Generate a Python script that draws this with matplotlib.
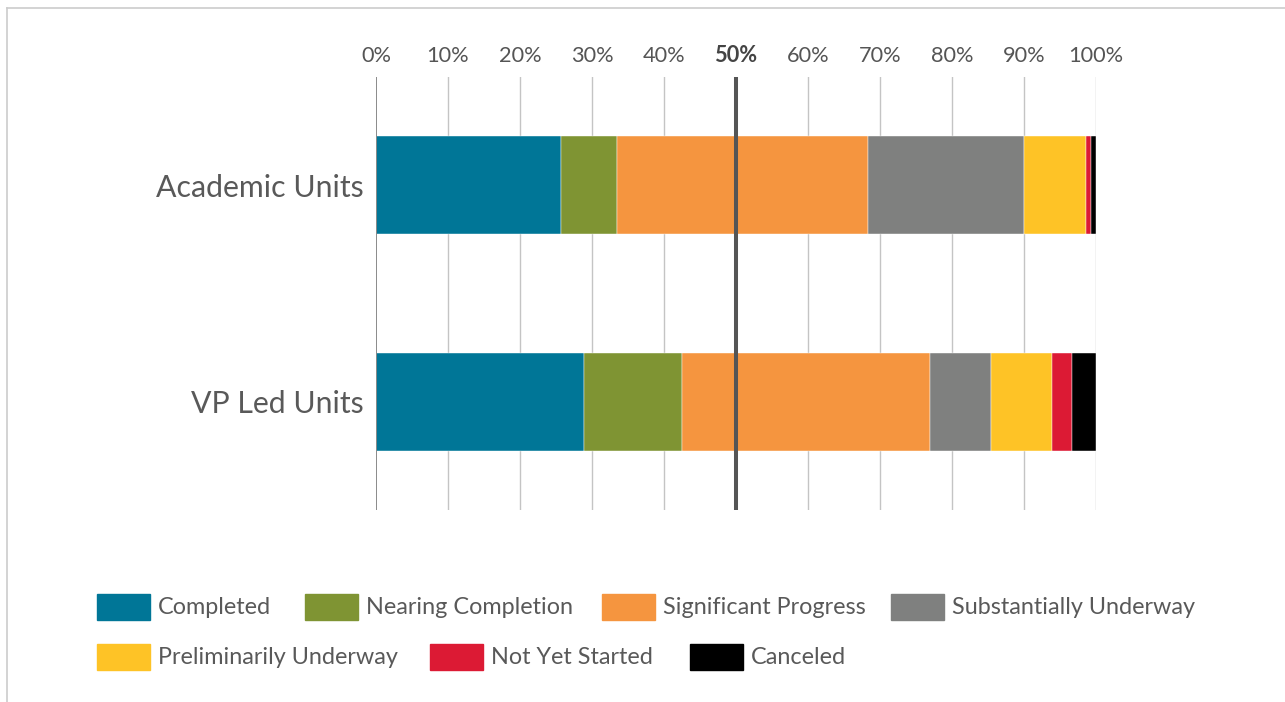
import numpy as np
import matplotlib.pyplot as plt
from matplotlib.patches import Rectangle
from matplotlib.lines import Line2D

plt.rcParams['font.family'] = ['Lato', 'DejaVu Sans']

units = ["Academic Units", "VP Led Units"]
statuses = ["Completed", "Nearing Completion", "Significant Progress",
            "Substantially Underway", "Preliminarily Underway",
            "Not Yet Started", "Canceled"]
colors = ["#007697", "#7F9433", "#F5953F", "#7F807F", "#FEC326",
          "#DC1A34", "#000000"]

# share of items per status (%)
academic = [25.7, 7.8, 34.8, 21.7, 8.6, 0.75, 0.65]
vp_led = [28.9, 13.6, 34.4, 8.5, 8.5, 2.8, 3.3]

ticks = list(range(0, 101, 10))
tick_labels = [f"{t}%" for t in ticks]

fig = plt.figure(figsize=(12.85, 7.02), dpi=100)
ax = fig.add_axes([376 / 1285, 1 - 510 / 702, 720 / 1285, 433 / 702])

data = np.array([academic, vp_led])
left = np.zeros(len(units))
for i, st in enumerate(statuses):
    ax.barh(range(len(units)), data[:, i], left=left, height=0.453,
            color=colors[i], edgecolor='white', linewidth=0.3, zorder=2)
    left += data[:, i]

for t in ticks:
    if t == 0:
        ax.axvline(t, color='#8a8a8a', lw=1.4, zorder=3)
    elif t == 50:
        ax.axvline(t, color='#555555', lw=2.9, zorder=4)
    else:
        ax.axvline(t, color='#c4c4c4', lw=1.0, zorder=1)

ax.set_xlim(0, 100)
ax.set_ylim(1.5, -0.5)
ax.xaxis.tick_top()
ax.set_xticks(ticks)
ax.set_xticklabels(tick_labels)
ax.tick_params(axis='x', length=0, pad=8, labelsize=15.7, labelcolor='#555555')
for lab in ax.get_xticklabels():
    if lab.get_text() == "50%":
        lab.set_fontweight('bold')
        lab.set_color('#444444')
ax.set_yticks(range(len(units)))
ax.set_yticklabels(units)
ax.tick_params(axis='y', length=0, pad=9, labelsize=21.8, labelcolor='#595959')
for s in ax.spines.values():
    s.set_visible(False)

# legend laid out as in the original (two flowing rows)
legend_pos = [(97, 607), (305, 607), (602, 607), (891, 607),
              (97, 657), (430, 657), (690, 657)]
W, H = 1285, 702
for (px, py), st, c in zip(legend_pos, statuses, colors):
    fig.patches.append(Rectangle((px / W, 1 - (py + 13) / H), 53 / W, 26 / H,
                                 transform=fig.transFigure, color=c))
    fig.text((px + 61) / W, 1 - py / H, st, fontsize=16.8, color='#595959',
             va='center', ha='left')

# outer frame
fig.lines.append(Line2D([7 / W, 1], [1 - 8 / H, 1 - 8 / H],
                        transform=fig.transFigure, color='#cccccc', lw=1.2))
fig.lines.append(Line2D([7 / W, 7 / W], [0, 1 - 8 / H],
                        transform=fig.transFigure, color='#cccccc', lw=1.2))

fig.savefig("out.png", dpi=100)
